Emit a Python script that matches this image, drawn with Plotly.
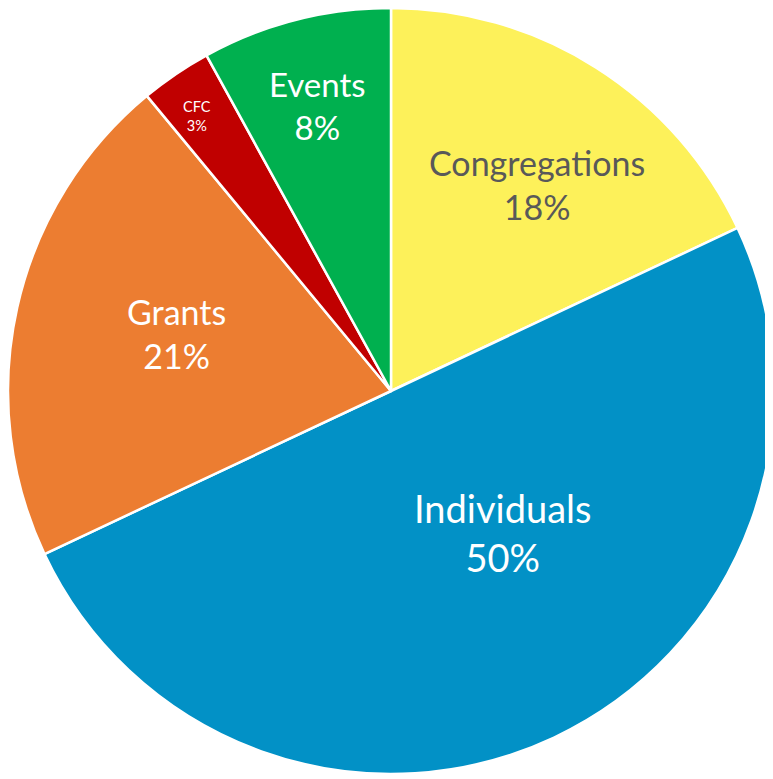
import math
import plotly.graph_objects as go

categories = ["Congregations", "Individuals", "Grants", "CFC", "Events"]
values = [18, 50, 21, 3, 8]
colors = ["#FDF15A", "#0291C6", "#EC7D31", "#C00000", "#00B04F"]
text_colors = ["#595959", "#FFFFFF", "#FFFFFF", "#FFFFFF", "#FFFFFF"]
text_sizes = [34, 38, 34, 14.5, 33]
# label placement style: radial fraction and angular tweak (degrees)
label_radius = [0.66, 0.47, 0.58, 0.88, 0.77]
label_shift = [3, -13, 2.5, -1, 0]

W, H = 773, 779
cx, cy, r = 383, 383, 383

fig = go.Figure(go.Pie(
    labels=categories,
    values=values,
    sort=False,
    direction="clockwise",
    rotation=0,
    marker=dict(colors=colors, line=dict(color="white", width=2.5)),
    textinfo="none",
    hoverinfo="label+percent",
    showlegend=False,
    domain=dict(x=[(cx - r) / W, (cx + r) / W],
                y=[(H - cy - r) / H, min(1, (H - cy + r) / H)]),
))

total = sum(values)
cum = 0
annotations = []
for lab, v, tc, ts, lr, ls in zip(categories, values, text_colors, text_sizes,
                                  label_radius, label_shift):
    mid = (cum + v / 2) / total * 360 + ls
    cum += v
    th = math.radians(mid)
    fx = cx + lr * r * math.sin(th)
    fy = cy - lr * r * math.cos(th)
    pct = round(v / total * 100)
    annotations.append(dict(
        x=fx / W, y=1 - fy / H, xref="paper", yref="paper",
        xanchor="center", yanchor="middle", showarrow=False,
        text=f"{lab}<br>{pct}%", align="center",
        font=dict(family="Lato", size=ts, color=tc),
    ))

fig.update_layout(
    width=W, height=H,
    margin=dict(l=0, r=0, t=0, b=0),
    paper_bgcolor="white",
    plot_bgcolor="white",
    annotations=annotations,
)

fig.write_html("out.html")
